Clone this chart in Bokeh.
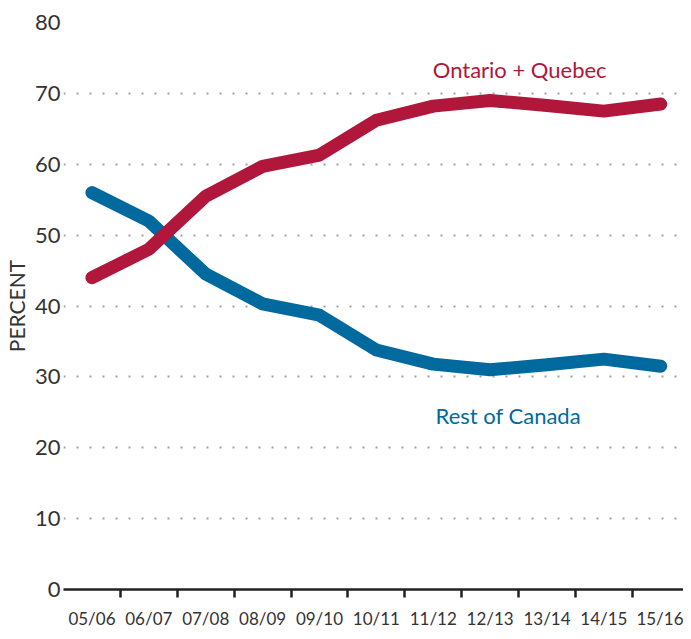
from bokeh.plotting import figure
from bokeh.models import Range1d, FixedTicker, Label, ColumnDataSource
from bokeh.embed import file_html
from bokeh.resources import INLINE

years = ["05/06", "06/07", "07/08", "08/09", "09/10", "10/11", "11/12", "12/13", "13/14", "14/15", "15/16"]
ontario_quebec = [44.0, 48.0, 55.5, 59.7, 61.3, 66.2, 68.2, 69.0, 68.3, 67.5, 68.5]
rest_of_canada = [56.0, 52.0, 44.5, 40.3, 38.7, 33.8, 31.8, 31.0, 31.7, 32.5, 31.5]
y_ticks = [0, 10, 20, 30, 40, 50, 60, 70, 80]

RED = "#B0173A"
BLUE = "#006A9E"
FONT = "Lato"

idx = list(range(len(years)))
src = ColumnDataSource(dict(x=idx, oq=ontario_quebec, rc=rest_of_canada))

p = figure(width=683, height=631, output_backend="svg", toolbar_location=None,
           x_range=Range1d(-0.5, 10.4), y_range=Range1d(0, 80),
           min_border_left=60, min_border_right=0, min_border_top=22, min_border_bottom=40)
p.outline_line_color = None
p.background_fill_color = "white"
p.border_fill_color = "white"

p.line("x", "rc", source=src, line_color=BLUE, line_width=13, line_cap="round", line_join="round")
p.line("x", "oq", source=src, line_color=RED, line_width=13, line_cap="round", line_join="round")

# x axis
xa = p.xaxis[0]
xa.ticker = FixedTicker(ticks=idx, minor_ticks=[i + 0.5 for i in range(len(years) - 1)])
xa.major_label_overrides = {i: y for i, y in enumerate(years)}
xa.major_tick_out = 0
xa.major_tick_in = 0
xa.minor_tick_out = 8
xa.minor_tick_in = 0
xa.minor_tick_line_width = 2.5
xa.minor_tick_line_color = "#222222"
xa.axis_line_width = 2.5
xa.axis_line_color = "#222222"
xa.major_label_text_font = FONT
xa.major_label_text_font_size = "17px"
xa.major_label_text_color = "#333333"
xa.major_label_standoff = 10
p.xgrid.grid_line_color = None

# y axis
ya = p.yaxis[0]
ya.ticker = FixedTicker(ticks=y_ticks)
ya.axis_line_color = None
ya.major_tick_out = 0
ya.major_tick_in = 0
ya.minor_tick_out = 0
ya.minor_tick_in = 0
ya.major_tick_line_color = None
ya.minor_tick_line_color = None
ya.major_label_text_font = FONT
ya.major_label_text_font_size = "22px"
ya.major_label_text_color = "#333333"
ya.major_label_standoff = 3
ya.axis_label = "PERCENT"
ya.axis_label_text_font = FONT
ya.axis_label_text_font_size = "21px"
ya.axis_label_text_font_style = "normal"
ya.axis_label_text_color = "#333333"
ya.axis_label_standoff = 3

p.ygrid.ticker = FixedTicker(ticks=[t for t in y_ticks if t > 0])
p.ygrid.grid_line_color = "#a0a0a0"
p.ygrid.grid_line_width = 2
p.ygrid.grid_line_dash = "2 11"

p.add_layout(Label(x=7.52, y=73.3, text="Ontario + Quebec", text_color=RED, text_font=FONT,
                   text_font_size="22px", text_align="center", text_baseline="middle"))
p.add_layout(Label(x=7.32, y=24.5, text="Rest of Canada", text_color=BLUE, text_font=FONT,
                   text_font_size="22px", text_align="center", text_baseline="middle"))

open("out.html", "w").write(file_html(p, INLINE))
